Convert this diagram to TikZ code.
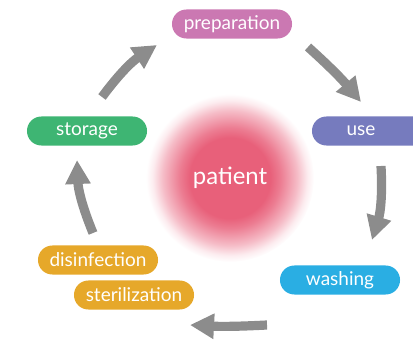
\documentclass[tikz,border=0pt]{standalone}
\usepackage{fontspec}
\setmainfont{Lato}
\usetikzlibrary{arrows.meta}
\definecolor{PrepPink}{RGB}{203,120,178}
\definecolor{UsePurple}{RGB}{118,123,190}
\definecolor{StoreGreen}{RGB}{62,181,115}
\definecolor{CleanOrange}{RGB}{230,168,42}
\definecolor{WashBlue}{RGB}{42,174,227}
\definecolor{PatRed}{RGB}{232,96,122}
\definecolor{FlowGray}{RGB}{140,140,140}
\pgfdeclareradialshading{patientglow}{\pgfpoint{0bp}{0bp}}{color(0bp)=(PatRed); color(12bp)=(PatRed); color(15bp)=(PatRed!82); color(20bp)=(PatRed!42); color(23bp)=(PatRed!12); color(25bp)=(white); color(50bp)=(white)}

\begin{document}
\begin{tikzpicture}[x=0.025cm,y=-0.025cm,>=Triangle]
        \tikzset{stage/.style={rounded corners=0.36cm,minimum width=3cm,minimum height=0.725cm,inner sep=0pt,text=white,font=\fontsize{13.5}{15}\selectfont},
          flow/.style={draw=FlowGray,line width=0.23cm,-{Triangle[length=0.6cm,width=0.6cm]}}}
        \useasboundingbox (0,0) rectangle (413,340);
        \clip (0,0) rectangle (413,340);
        \node[circle,minimum size=4.2cm,shading=patientglow,text=white,font=\fontsize{17}{19}\selectfont] (patient) at (230,178) {patient};
        \node[stage,fill=PrepPink] (prep) at (232,24) {preparation};
        \node[stage,fill=UsePurple] (use) at (372,131) {use\hspace*{0.55cm}};
        \node[stage,fill=StoreGreen] (store) at (87,131) {storage};
        \node[stage,fill=CleanOrange] (disinf) at (98,260) {disinfection};
        \node[stage,fill=CleanOrange] (steril) at (134,295) {sterilization};
        \node[stage,fill=WashBlue] (wash) at (340,280) {washing};
        \coordinate (s1) at (102,97); \coordinate (e1) at (157,45);
        \coordinate (s2) at (308,47); \coordinate (e2) at (361,102);
        \coordinate (s3) at (381,166); \coordinate (e3) at (372,240);
        \coordinate (s4) at (267,325); \coordinate (e4) at (190,325);
        \coordinate (s5) at (93,233); \coordinate (e5) at (77,160);
        \foreach \x/\y/\b in {s1/e1/10,s2/e2/4,s3/e3/10,s4/e4/3,s5/e5/10}{\draw[flow] (\x) to[bend left=\b] (\y);}
      \end{tikzpicture}
\end{document}
